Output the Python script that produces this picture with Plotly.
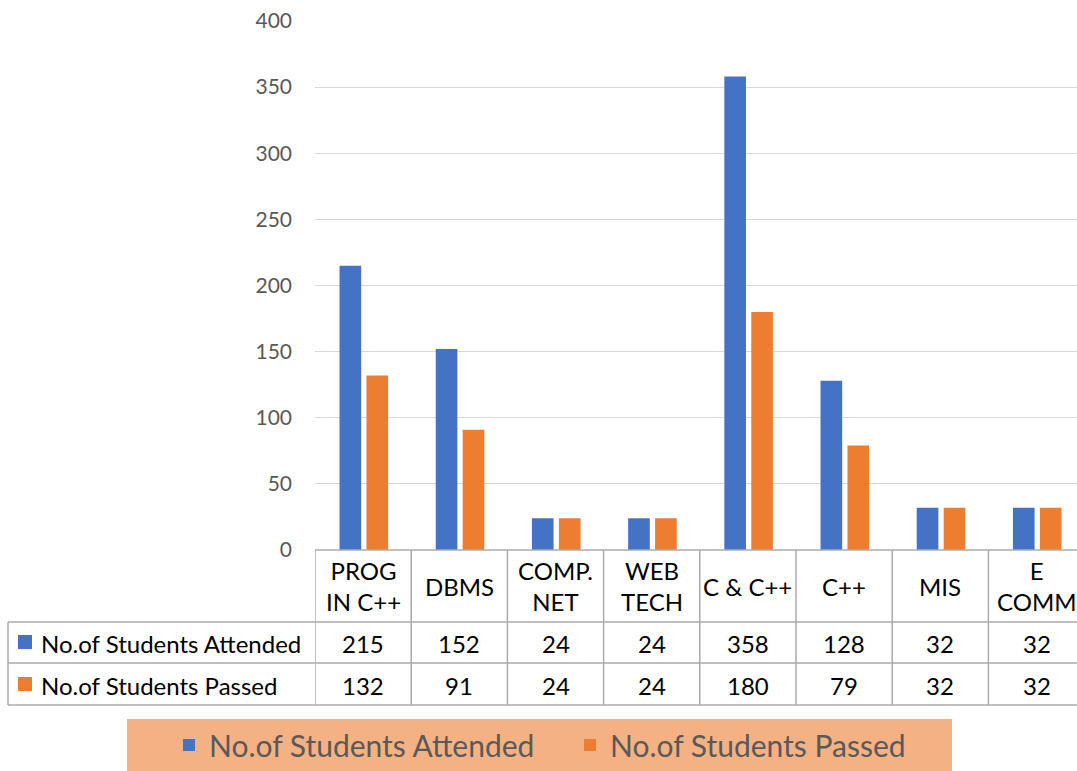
import plotly.graph_objects as go

categories = ["PROG<br>IN C++", "DBMS", "COMP.<br>NET", "WEB<br>TECH", "C & C++", "C++", "MIS", "E<br>COMM"]
series_names = ["No.of Students Attended", "No.of Students Passed"]
attended = [215, 152, 24, 24, 358, 128, 32, 32]
passed = [132, 91, 24, 24, 180, 79, 32, 32]
y_ticks = [0, 50, 100, 150, 200, 250, 300, 350, 400]
colors = ["#4472C4", "#ED7D31"]

W, H = 1077, 771
FONT = "Lato"


def px(x):
    return x / W


def py(y):
    return 1 - y / H


xs = list(range(len(categories)))
fig = go.Figure()
for name, vals, col, off in [(series_names[0], attended, colors[0], -0.245),
                             (series_names[1], passed, colors[1], 0.035)]:
    fig.add_trace(go.Bar(x=xs, y=vals, name=name, marker_color=col,
                         width=0.225, offset=off, marker_line_width=0))

grid = "#D9D9D9"
border = "#ABABAB"
fig.update_layout(
    width=W, height=H,
    margin=dict(l=0, r=0, t=0, b=0, autoexpand=False),
    paper_bgcolor="white", plot_bgcolor="white",
    barmode="overlay",
    font=dict(family=FONT, color="#595959"),
    xaxis=dict(domain=[px(315), 1], range=[-0.5, -0.5 + (W - 315) / 96.2],
               showticklabels=False, showgrid=False, zeroline=False,
               showline=False, ticks="", automargin=False),
    yaxis=dict(domain=[py(550), py(21)], range=[0, 400], tickvals=y_ticks,
               showgrid=True, gridcolor=grid, gridwidth=1, zeroline=False,
               showline=False, ticks="", ticklabelstandoff=22, automargin=False,
               tickfont=dict(size=21, color="#595959", family=FONT)),
    showlegend=True,
    legend=dict(orientation="h", x=px(169), xanchor="left", y=py(745), yanchor="middle",
                bgcolor="rgba(0,0,0,0)", font=dict(size=30, color="#595959", family=FONT),
                itemsizing="constant", entrywidth=356, traceorder="normal"),
)

shapes = []
# legend background
shapes.append(dict(type="rect", xref="paper", yref="paper", x0=px(127), x1=px(952),
                   y0=py(771), y1=py(719), fillcolor="#F4B183", line_width=0, layer="below"))
# table horizontal lines
shapes.append(dict(type="line", xref="paper", yref="paper", x0=px(315), x1=1, y0=py(550), y1=py(550),
                   line=dict(color=border, width=1.5)))
for yy in [622, 663, 705]:
    shapes.append(dict(type="line", xref="paper", yref="paper", x0=px(8), x1=1, y0=py(yy), y1=py(yy),
                       line=dict(color=border, width=1.5)))
shapes.append(dict(type="line", xref="paper", yref="paper", x0=px(8), x1=px(8), y0=py(622), y1=py(705),
                   line=dict(color=border, width=1.5)))
for i in range(len(categories) + 1):
    shapes.append(dict(type="line", xref="x", yref="paper", x0=i - 0.5, x1=i - 0.5,
                       y0=py(550), y1=py(705), line=dict(color=border, width=1.5)))
# row markers
for col, yc in [(colors[0], 642), (colors[1], 684)]:
    shapes.append(dict(type="rect", xref="paper", yref="paper", x0=px(18), x1=px(32),
                       y0=py(yc + 7), y1=py(yc - 7), fillcolor=col, line_width=0))
fig.update_layout(shapes=shapes)

ann = []
tfont = dict(size=24, color="#000000", family=FONT)
for i, c in enumerate(categories):
    ann.append(dict(x=i, y=py(586), xref="x", yref="paper", text=c, showarrow=False,
                    font=tfont, align="center", xanchor="center", yanchor="middle"))
    ann.append(dict(x=i, y=py(643), xref="x", yref="paper", text=str(attended[i]), showarrow=False,
                    font=tfont, xanchor="center", yanchor="middle"))
    ann.append(dict(x=i, y=py(685), xref="x", yref="paper", text=str(passed[i]), showarrow=False,
                    font=tfont, xanchor="center", yanchor="middle"))
for name, yc in [(series_names[0], 643), (series_names[1], 685)]:
    ann.append(dict(x=px(39), y=py(yc), xref="paper", yref="paper", text=name, showarrow=False,
                    font=tfont, xanchor="left", yanchor="middle"))
fig.update_layout(annotations=ann)

fig.write_html("out.html", config={"displayModeBar": False},
               post_script="document.body.style.margin='0';")
